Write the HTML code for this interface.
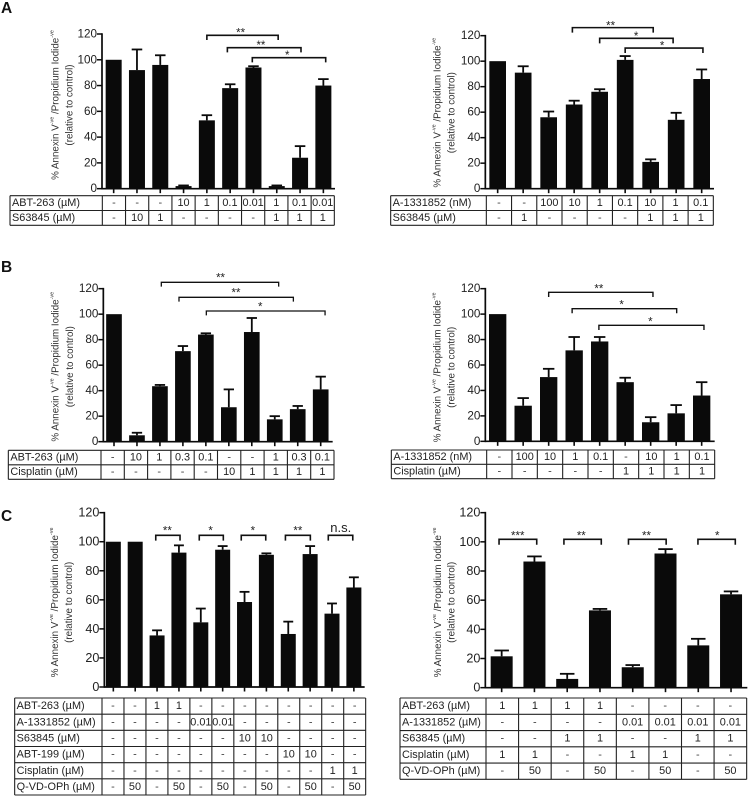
<!DOCTYPE html>
<html lang="en">
<head>
<meta charset="utf-8">
<title>Annexin V / Propidium Iodide bar charts</title>
<style>
html,body{margin:0;padding:0;background:#fff;width:748px;height:796px;overflow:hidden}
svg{display:block;font-family:"Liberation Sans",Arial,sans-serif;filter:blur(0.35px)}
</style>
</head>
<body>
<svg id="figure" xmlns="http://www.w3.org/2000/svg" width="748" height="796" viewBox="0 0 748 796">
  <text x="1" y="13" font-size="15.5" font-weight="700" fill="#111">A</text>
  <text x="1" y="272" font-size="15.5" font-weight="700" fill="#111">B</text>
  <text x="1" y="521" font-size="15.5" font-weight="700" fill="#111">C</text>
</svg>
<script>
// ---- shared axis data ----
const yTicks = [0, 20, 40, 60, 80, 100, 120];

// ---- Panel A left ----
const a1Values = [100, 92, 96, 2, 53, 78, 94, 2, 24, 80];
const a1ErrorTops = [null, 108, 103.5, 2.5, 57, 81, 95, 2.5, 33, 85];
const a1RowLabels = ["ABT-263 (µM)", "S63845 (µM)"];
const a1RowAbt = ["-", "-", "-", "10", "1", "0.1", "0.01", "1", "0.1", "0.01"];
const a1RowS63 = ["-", "10", "1", "-", "-", "-", "-", "1", "1", "1"];
const a1BracketFrom = [4, 4.88, 5.95];
const a1BracketTo = [7.06, 8.04, 9.1];
const a1BracketLevel = [119, 109.4, 101.6];
const a1BracketText = ["**", "**", "*"];
const a1BracketTextAt = [5.45, 6.32, 7.45];

// ---- Panel A right ----
const a2Values = [100, 91, 56, 66, 76, 101, 21, 54, 86];
const a2ErrorTops = [null, 96, 60.5, 69, 78, 104, 23, 59.5, 93.5];
const a2RowLabels = ["A-1331852 (nM)", "S63845 (µM)"];
const a2RowA133 = ["-", "-", "100", "10", "1", "0.1", "10", "1", "0.1"];
const a2RowS63 = ["-", "1", "-", "-", "-", "-", "1", "1", "1"];
const a2BracketFrom = [2.93, 4, 5];
const a2BracketTo = [6.1, 6.88, 8.05];
const a2BracketLevel = [126.3, 117.9, 110.3];
const a2BracketText = ["**", "*", "*"];
const a2BracketTextAt = [4.43, 5.43, 6.45];

// ---- Panel B left ----
const b1Values = [100, 5, 43.5, 71, 84, 27, 86, 17.5, 25.5, 41];
const b1ErrorTops = [null, 7, 44.5, 75, 85, 41, 97, 20, 28, 51];
const b1RowLabels = ["ABT-263 (µM)", "Cisplatin (µM)"];
const b1RowAbt = ["-", "10", "1", "0.3", "0.1", "-", "-", "1", "0.3", "0.1"];
const b1RowCis = ["-", "-", "-", "-", "-", "10", "1", "1", "1", "1"];
const b1BracketFrom = [2.06, 2.83, 4.02];
const b1BracketTo = [7.17, 7.81, 9.19];
const b1BracketLevel = [125, 113.2, 102.5];
const b1BracketText = ["**", "**", "*"];
const b1BracketTextAt = [4.64, 5.31, 6.37];

// ---- Panel B right ----
const b2Values = [100, 28, 50.5, 71.5, 78.5, 46.5, 15, 22, 36];
const b2ErrorTops = [null, 34, 57, 82, 82, 50, 19, 28.5, 46.5];
const b2RowLabels = ["A-1331852 (nM)", "Cisplatin (µM)"];
const b2RowA133 = ["-", "100", "10", "1", "0.1", "-", "10", "1", "0.1"];
const b2RowCis = ["-", "-", "-", "-", "-", "1", "1", "1", "1"];
const b2BracketFrom = [2, 2.92, 3.97];
const b2BracketTo = [6.09, 7.02, 8.09];
const b2BracketLevel = [117.1, 104.3, 91.2];
const b2BracketText = ["**", "*", "*"];
const b2BracketTextAt = [3.97, 4.86, 5.99];

// ---- Panel C left ----
const c1Values = [100, 100, 35.5, 92.5, 44.5, 94.5, 58.5, 91, 36.5, 91.5, 50.5, 68.5];
const c1ErrorTops = [null, null, 39, 97.5, 54, 97, 65.5, 92, 45, 97, 57.5, 75.5];
const c1RowLabels = ["ABT-263 (µM)", "A-1331852 (µM)", "S63845 (µM)", "ABT-199 (µM)", "Cisplatin (µM)", "Q-VD-OPh (µM)"];
const c1RowAbt263 = ["-", "-", "1", "1", "-", "-", "-", "-", "-", "-", "-", "-"];
const c1RowA133 = ["-", "-", "-", "-", "0.01", "0.01", "-", "-", "-", "-", "-", "-"];
const c1RowS63 = ["-", "-", "-", "-", "-", "-", "10", "10", "-", "-", "-", "-"];
const c1RowAbt199 = ["-", "-", "-", "-", "-", "-", "-", "-", "10", "10", "-", "-"];
const c1RowCis = ["-", "-", "-", "-", "-", "-", "-", "-", "-", "-", "1", "1"];
const c1RowQvd = ["-", "50", "-", "50", "-", "50", "-", "50", "-", "50", "-", "50"];
const c1BracketFrom = [1.94, 3.93, 5.85, 7.87, 9.83];
const c1BracketTo = [3.05, 5.03, 6.97, 9.01, 10.95];
const c1BracketLevel = [104.4, 104.4, 104.4, 104.4, 104.4];
const c1BracketText = ["**", "*", "*", "**", "n.s."];
const c1BracketTextAt = [2.47, 4.45, 6.38, 8.44, 10.4];

// ---- Panel C right ----
const c2Values = [21.5, 86.5, 6, 53, 14, 92, 29, 64];
const c2ErrorTops = [25.5, 90, 9.5, 54, 15.5, 95, 33.5, 66];
const c2RowLabels = ["ABT-263 (µM)", "A-1331852 (µM)", "S63845 (µM)", "Cisplatin (µM)", "Q-VD-OPh (µM)"];
const c2RowAbt = ["1", "1", "1", "1", "-", "-", "-", "-"];
const c2RowA133 = ["-", "-", "-", "-", "0.01", "0.01", "0.01", "0.01"];
const c2RowS63 = ["-", "-", "1", "1", "-", "-", "1", "1"];
const c2RowCis = ["1", "1", "-", "-", "1", "1", "-", "-"];
const c2RowQvd = ["-", "50", "-", "50", "-", "50", "-", "50"];
const c2BracketFrom = [-0.08, 1.9, 3.87, 5.99];
const c2BracketTo = [1.07, 3.04, 5.02, 7.13];
const c2BracketLevel = [101.7, 101.7, 101.7, 101.7];
const c2BracketText = ["***", "**", "**", "*"];
const c2BracketTextAt = [0.49, 2.43, 4.42, 6.58];

// ---- Panel assembly (layout in 3x crop units relative to panel origin) ----
const panels = [
  {id:"a-left", ox:0, oy:0, values:a1Values, tops:a1ErrorTops, rowLabels:a1RowLabels, rows:[a1RowAbt,a1RowS63],
   bf:a1BracketFrom, bt:a1BracketTo, bl:a1BracketLevel, bx:a1BracketText, ba:a1BracketTextAt,
   axisX:306, xEnd:1005, y0:566, y120:102, c0:341, step:69.9, barW:48, tx:30, tl:307, tr:1003, tt:587, rh:44.5,
   l1:166, l2:210, lc:315, tick:11.7, drop:14, gap:14, lw:1.6},
  {id:"a-right", ox:374, oy:0, values:a2Values, tops:a2ErrorTops, rowLabels:a2RowLabels, rows:[a2RowA133,a2RowS63],
   bf:a2BracketFrom, bt:a2BracketTo, bl:a2BracketLevel, bx:a2BracketText, ba:a2BracketTextAt,
   axisX:334, xEnd:1020, y0:566, y120:107, c0:371, step:76.5, barW:50, tx:50, tl:337, tr:1018, tt:587, rh:44.5,
   l1:190, l2:234, lc:338, tick:11.7, drop:15, gap:13, lw:1.6},
  {id:"b-left", ox:0, oy:250, values:b1Values, tops:b1ErrorTops, rowLabels:b1RowLabels, rows:[b1RowAbt,b1RowCis],
   bf:b1BracketFrom, bt:b1BracketTo, bl:b1BracketLevel, bx:b1BracketText, ba:b1BracketTextAt,
   axisX:310, xEnd:998, y0:575, y120:116, c0:342, step:68.9, barW:47, tx:25, tl:303, tr:1002, tt:601, rh:43.5,
   l1:166, l2:212, lc:350, tick:11.7, drop:13, gap:20, lw:1.3},
  {id:"b-right", ox:374, oy:250, values:b2Values, tops:b2ErrorTops, rowLabels:b2RowLabels, rows:[b2RowA133,b2RowCis],
   bf:b2BracketFrom, bt:b2BracketTo, bl:b2BracketLevel, bx:b2BracketText, ba:b2BracketTextAt,
   axisX:334, xEnd:1022, y0:574, y120:116, c0:371, step:76.5, barW:52, tx:52, tl:338, tr:1022, tt:600, rh:43,
   l1:190, l2:234, lc:352, tick:11.7, drop:14, gap:18, lw:1.4},
  {id:"c-left", ox:0, oy:500, values:c1Values, tops:c1ErrorTops, rowLabels:c1RowLabels, rows:[c1RowAbt263,c1RowA133,c1RowS63,c1RowAbt199,c1RowCis,c1RowQvd],
   bf:c1BracketFrom, bt:c1BracketTo, bl:c1BracketLevel, bx:c1BracketText, ba:c1BracketTextAt,
   axisX:313, xEnd:1094, y0:561, y120:38, c0:340, step:65.6, barW:45, tx:44, tl:306, tr:1097, tt:594, rh:48.5,
   l1:165, l2:208, lc:307, tick:12.6, drop:16, gap:20, lw:1.6},
  {id:"c-right", ox:374, oy:500, values:c2Values, tops:c2ErrorTops, rowLabels:c2RowLabels, rows:[c2RowAbt,c2RowA133,c2RowS63,c2RowCis,c2RowQvd],
   bf:c2BracketFrom, bt:c2BracketTo, bl:c2BracketLevel, bx:c2BracketText, ba:c2BracketTextAt,
   axisX:334, xEnd:1120, y0:563, y120:38, c0:383, step:98.3, barW:66, tx:78, tl:336, tr:1118, tt:594, rh:48.8,
   l1:192, l2:234, lc:307, tick:12.6, drop:16, gap:18, lw:1.6}
];

const NS = "http://www.w3.org/2000/svg";
const root = document.getElementById("figure");

function make(parent, tag, attrs) {
  const el = document.createElementNS(NS, tag);
  for (const k in attrs) el.setAttribute(k, attrs[k]);
  parent.appendChild(el);
  return el;
}
function line(parent, x1, y1, x2, y2, w, color) {
  return make(parent, "line", {x1:x1, y1:y1, x2:x2, y2:y2, stroke:color || "#0a0a0a", "stroke-width":w});
}

function drawYLabel(g, x, y) {
  const t1 = make(g, "text", {transform:"translate("+x+" "+y+") rotate(-90)", "text-anchor":"middle", "dominant-baseline":"central", "font-size":"9.8", fill:"#333"});
  
  
  const parts = [["% Annexin V",0,null],["-ve",-3,"5.5"],[" /Propidium Iodide",3,null],["-ve",-3,"5.5"]];
  parts.forEach(function (p) {
    const s = make(t1, "tspan", {dy:p[1]});
    if (p[2]) s.setAttribute("font-size", p[2]);
    s.textContent = p[0];
  });
}
function drawYLabel2(g, x, y) {
  const t2 = make(g, "text", {transform:"translate("+x+" "+y+") rotate(-90)", "text-anchor":"middle", "dominant-baseline":"central", "font-size":"9.8", fill:"#333"});
  
  
  t2.textContent = "(relative to control)";
}

panels.forEach(function (p) {
  const X = function (v) { return p.ox + v / 3; };
  const Yz = function (v) { return p.oy + v / 3; };
  const yScale = function (v) { return Yz(p.y0 + (p.y120 - p.y0) * v / 120); };
  const xScale = function (i) { return X(p.c0 + p.step * i); };

  const g = make(root, "g", {});
  
  

  drawYLabel(g, X(p.l1), Yz(p.lc));
  drawYLabel2(g, X(p.l2), Yz(p.lc));

  // bars and error bars
  p.values.forEach(function (v, i) {
    const cx = xScale(i), w = p.barW / 3;
    if (p.tops[i] !== null) {
      const st = line(g, cx, yScale(v), cx, yScale(p.tops[i]), 1.8);
      
      
      const cap = line(g, cx - w * 0.33, yScale(p.tops[i]), cx + w * 0.33, yScale(p.tops[i]), 1.8);
      
      
    }
    const bar = make(g, "rect", {x:cx - w / 2, y:yScale(v), width:w, height:yScale(0) - yScale(v), fill:"#0a0a0a"});
    
    
    const xt = line(g, cx, yScale(0), cx, yScale(0) + 4.5, 1.6);
    
    
  });

  // axes
  const yAxis = line(g, X(p.axisX), yScale(120) - 0.8, X(p.axisX), yScale(0) + 0.8, 1.7);
  
  
  const xAxis = line(g, X(p.axisX), yScale(0), X(p.xEnd), yScale(0), 1.7);
  
  

  yTicks.forEach(function (t) {
    const tk = line(g, X(p.axisX) - 5, yScale(t), X(p.axisX), yScale(t), 1.5);
    
    
    const lb = make(g, "text", {x:X(p.axisX) - 5, y:yScale(t), "text-anchor":"end", "dominant-baseline":"central", "font-size":p.tick, fill:"#222"});
    
    
    lb.textContent = t;
  });

  // significance brackets
  p.bf.forEach(function (from, i) {
    const xa = xScale(from), xb = xScale(p.bt[i]), y = yScale(p.bl[i]), d = p.drop / 3;
    const br = make(g, "path", {d:"M" + xa + " " + (y + d) + "V" + y + "H" + xb + "V" + (y + d), fill:"none", stroke:"#111", "stroke-width":p.lw});
    
    
    const isNs = p.bx[i] === "n.s.";
    const st = make(g, "text", {x:xScale(p.ba[i]), y:isNs ? y - 3.5 : y - p.gap / 3 + 6, "text-anchor":"middle", "font-size":isNs ? 13 : 11.5, fill:"#222"});
    
    
    st.textContent = p.bx[i];
  });

  // dose table
  const n = p.values.length, nr = p.rows.length;
  const colW = (p.tr - p.tl) / n;
  const top = Yz(p.tt), rowH = p.rh / 3, left = X(p.tx), right = X(p.tr), lblR = X(p.tl);
  const tg = make(g, "g", {});
  
  
  for (let r = 0; r <= nr; r++) {
    const hl = line(tg, left, top + r * rowH, right, top + r * rowH, 1.1, "#222");
    
    
  }
  for (let c = 0; c <= n + 1; c++) {
    const vx = c === 0 ? left : lblR + (c - 1) * colW / 3;
    const vl = line(tg, vx, top, vx, top + nr * rowH, 1.1, "#222");
    
    
  }
  p.rows.forEach(function (row, r) {
    const cy = top + (r + 0.5) * rowH;
    const rl = make(tg, "text", {x:left + 2, y:cy, "dominant-baseline":"central", "font-size":"10.9", fill:"#222"});
    
    
    rl.textContent = p.rowLabels[r];
    row.forEach(function (val, c) {
      const tc = make(tg, "text", {x:lblR + (c + 0.5) * colW / 3, y:cy, "text-anchor":"middle", "dominant-baseline":"central", "font-size":"10.9", fill:val === "-" ? "#444" : "#222"});
      
      
      tc.textContent = val;
    });
  });
});
</script>
</body>
</html>
